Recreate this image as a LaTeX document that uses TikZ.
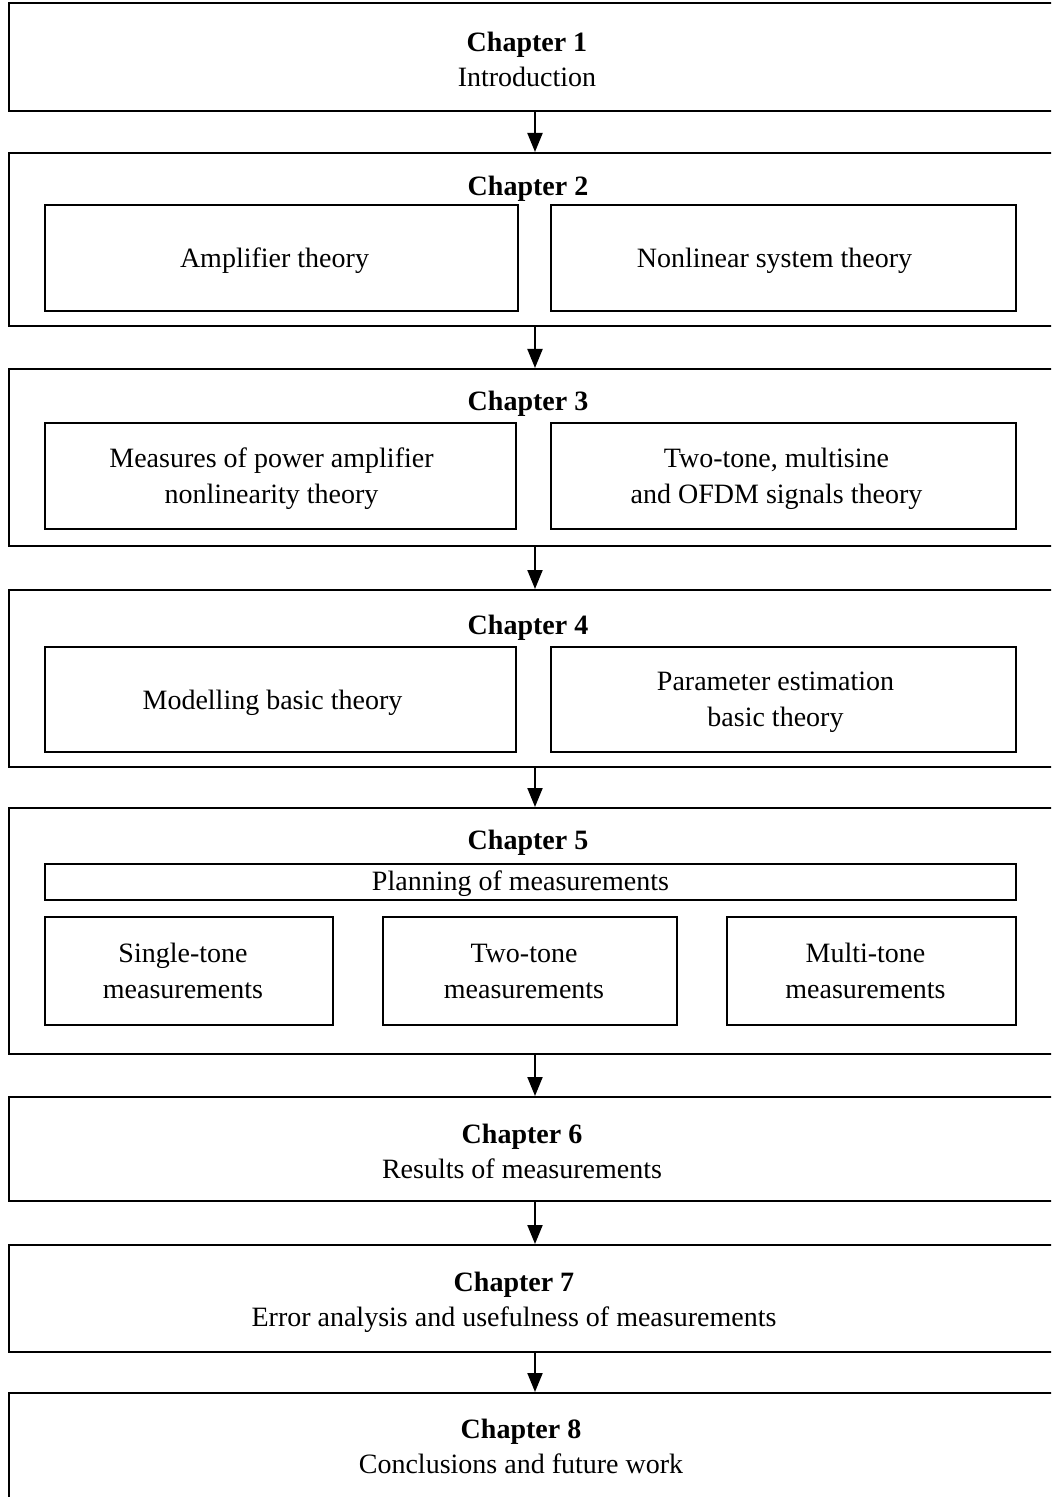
\documentclass[tikz,border=0pt]{standalone}
\usepackage{fontspec}
\setmainfont{Liberation Serif}
\usetikzlibrary{arrows.meta}

\begin{document}
\begin{tikzpicture}[x=0.5pt,y=-0.5pt,line width=1pt,>={Triangle[length=9.5pt,width=7.5pt]}]
\tikzset{chapbox/.style={draw,minimum width=526pt,inner sep=0pt},
         partbox/.style={draw,inner sep=0pt},
         parttext/.style={align=center,inner sep=0pt,font=\fontsize{14}{18}\selectfont},
         title/.style={align=center,inner sep=0pt,font=\fontsize{14}{17.5}\selectfont}}
\useasboundingbox (0,0) rectangle (1051,1497);
\clip (0,0) rectangle (1051,1497);
% ---------- outer chapter frames (right side runs off the page) ----------
\node[chapbox,minimum height=54pt]   (ch1) at (535,57)     {};
\node[chapbox,minimum height=86.5pt] (ch2) at (535,239.5)  {};
\node[chapbox,minimum height=88.5pt] (ch3) at (535,457.5)  {};
\node[chapbox,minimum height=88.5pt] (ch4) at (535,678.5)  {};
\node[chapbox,minimum height=123pt]  (ch5) at (535,931)    {};
\node[chapbox,minimum height=52pt]   (ch6) at (535,1149)   {};
\node[chapbox,minimum height=53.5pt] (ch7) at (535,1298.5) {};
\node[chapbox,minimum height=63.5pt] (ch8) at (535,1456.5) {};
% ---------- titles ----------
\node[title] (t1) at (527,59)   {\textbf{Chapter 1}\\Introduction};
\node[title] (t2) at (528,189)  {\textbf{Chapter 2}};
\node[title] (t3) at (528,404)  {\textbf{Chapter 3}};
\node[title] (t4) at (528,628)  {\textbf{Chapter 4}};
\node[title] (t5) at (528,843)  {\textbf{Chapter 5}};
\node[title] (t6) at (522,1151) {\textbf{Chapter 6}\\Results of measurements};
\node[title] (t7) at (514,1302) {\textbf{Chapter 7}\\Error analysis and usefulness of measurements};
\node[title] (t8) at (521,1446) {\textbf{Chapter 8}\\Conclusions and future work};
% ---------- chapter 2 ----------
\node[partbox,minimum width=236.5pt,minimum height=53pt] (amp) at (281.5,258) {};
\node[partbox,minimum width=232.5pt,minimum height=53pt] (nls) at (783.5,258) {};
\node[parttext] (amptxt) at ([xshift=-3.5pt,yshift=-1.5pt]amp.center) {Amplifier theory};
\node[parttext] (nlstxt) at ([xshift=-4.5pt,yshift=-1.5pt]nls.center) {Nonlinear system theory};
% ---------- chapter 3 ----------
\node[partbox,minimum width=235.5pt,minimum height=53pt] (meas) at (280.5,476) {};
\node[partbox,minimum width=232.5pt,minimum height=53pt] (sig) at (783.5,476) {};
\node[parttext] (meastxt) at ([xshift=-4.5pt,yshift=-1.5pt]meas.center) {Measures of power amplifier\\nonlinearity theory};
\node[parttext] (sigtxt) at ([xshift=-3.5pt,yshift=-1.5pt]sig.center) {Two-tone, multisine\\and OFDM signals theory};
% ---------- chapter 4 ----------
\node[partbox,minimum width=235.5pt,minimum height=52.5pt] (mod) at (280.5,699.5) {};
\node[partbox,minimum width=232.5pt,minimum height=52.5pt] (par) at (783.5,699.5) {};
\node[parttext] (modtxt) at ([xshift=-4pt,yshift=-1.5pt]mod.center) {Modelling basic theory};
\node[parttext] (partxt) at ([xshift=-4pt,yshift=-1.5pt]par.center) {Parameter estimation\\basic theory};
% ---------- chapter 5 ----------
\node[partbox,minimum width=485.5pt,minimum height=18pt] (plan) at (530.5,882) {};
\node[partbox,minimum width=144pt,minimum height=54pt] (single) at (189,971) {};
\node[partbox,minimum width=147pt,minimum height=54pt] (two) at (530,971) {};
\node[partbox,minimum width=144.5pt,minimum height=54pt] (multi) at (871.5,971) {};
\node[parttext] (plantxt) at ([xshift=-5pt,yshift=-1pt]plan.center) {Planning of measurements};
\node[parttext] (singletxt) at ([xshift=-3pt]single.center) {Single-tone\\measurements};
\node[parttext] (twotxt) at ([xshift=-3pt]two.center) {Two-tone\\measurements};
\node[parttext] (multitxt) at ([xshift=-3pt]multi.center) {Multi-tone\\measurements};
% ---------- arrows between chapters ----------
\foreach \a/\b in {ch1/ch2,ch2/ch3,ch3/ch4,ch4/ch5,ch5/ch6,ch6/ch7,ch7/ch8}
  \draw[->] (\a.south) -- (\b.north);
\end{tikzpicture}
\end{document}
